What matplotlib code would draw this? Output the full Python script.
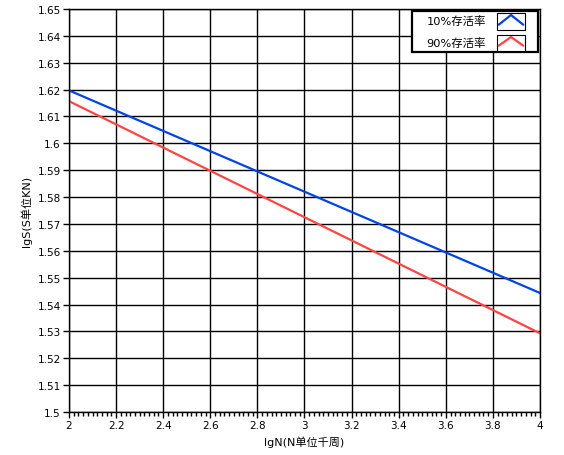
import matplotlib
matplotlib.use('Agg')
import matplotlib.pyplot as plt
from matplotlib.patches import Rectangle
from matplotlib.lines import Line2D
import numpy as np

plt.rcParams['font.family'] = ['DejaVu Sans', 'Noto Sans CJK SC']

# data
lgN = [2.0, 4.0]
lgS_10 = [1.6197, 1.5443]
lgS_90 = [1.6157, 1.5293]
labels = ['10%存活率', '90%存活率']
xtick_labels = ['2', '2.2', '2.4', '2.6', '2.8', '3', '3.2', '3.4', '3.6', '3.8', '4']
ytick_labels = ['1.5', '1.51', '1.52', '1.53', '1.54', '1.55', '1.56', '1.57', '1.58',
                '1.59', '1.6', '1.61', '1.62', '1.63', '1.64', '1.65']

BLUE = '#0044E6'
RED = '#FF4444'

W, H = 564, 456
fig = plt.figure(figsize=(W / 100, H / 100), dpi=100)
ax = fig.add_axes([69 / W, 1 - 413 / H, (540 - 69) / W, (413 - 10) / H])

ax.plot(lgN, lgS_10, color=BLUE, lw=1.6)
ax.plot(lgN, lgS_90, color=RED, lw=1.6)

ax.set_xlim(2, 4)
ax.set_ylim(1.5, 1.65)
ax.set_xticks(np.linspace(2, 4, len(xtick_labels)))
ax.set_xticklabels(xtick_labels)
ax.set_xticks(np.arange(2, 4.001, 0.02), minor=True)
ax.set_yticks(np.linspace(1.5, 1.65, len(ytick_labels)))
ax.set_yticklabels(ytick_labels)
ax.grid(True, which='major', color='black', lw=1)
ax.tick_params(axis='both', which='major', labelsize=7.5, length=4, width=1, pad=2, color='black')
ax.tick_params(axis='x', which='minor', length=3, width=1)
for s in ax.spines.values():
    s.set_linewidth(1)
    s.set_color('black')

ax.set_xlabel('lgN(N单位千周)', fontsize=8, labelpad=4)
ax.set_ylabel('lgS(S单位KN)', fontsize=8, labelpad=4)


# hand-drawn legend box, LabVIEW style
def fx(px):
    return px / W


def fy(py):
    return 1 - py / H


fig.patches.append(Rectangle((fx(412), fy(53)), fx(538) - fx(412), fy(12) - fy(53),
                             transform=fig.transFigure, facecolor='white',
                             edgecolor='black', lw=1.6, zorder=5))
rows = [(13.5, 30.5, 21.5, BLUE), (35.5, 51.5, 43.5, RED)]
for (top, bot, mid, c), lab in zip(rows, labels):
    fig.patches.append(Rectangle((fx(497), fy(bot)), fx(525) - fx(497), fy(top) - fy(bot),
                                 transform=fig.transFigure, facecolor='white',
                                 edgecolor='black', lw=0.8, zorder=6))
    fig.lines.append(Line2D([fx(499), fx(511), fx(523)],
                            [fy(bot - 5), fy(top + 2.5), fy(bot - 5)],
                            transform=fig.transFigure, color=c, lw=1.6, zorder=7))
    fig.text(fx(486), fy(mid), lab, ha='right', va='center', fontsize=8.2, zorder=7)

fig.savefig('out.png', dpi=100, facecolor='white')
